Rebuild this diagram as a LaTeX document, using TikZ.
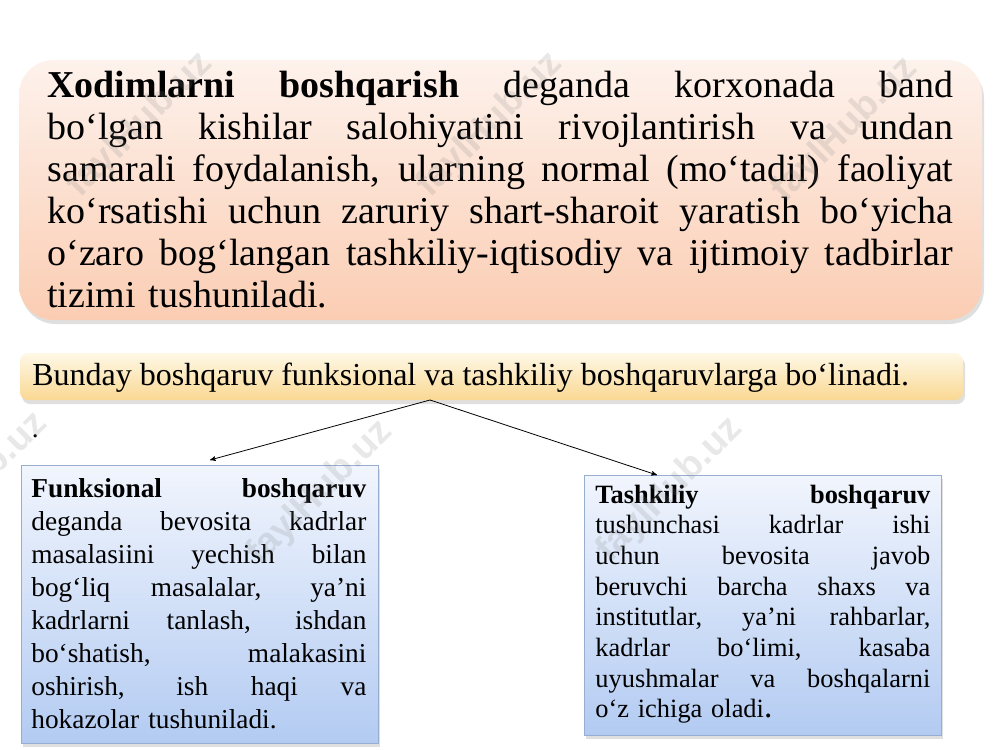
\documentclass[tikz,border=0pt]{standalone}
\usepackage{fontspec}
\setmainfont{Liberation Serif}
\newfontfamily\wmfont{Liberation Sans}
\usetikzlibrary{arrows,shadows}

\definecolor{peachtop}{HTML}{FDF2EC}
\definecolor{peachbot}{HTML}{FBCDB3}
\definecolor{sandtop}{HTML}{FEF8E6}
\definecolor{sandbot}{HTML}{FAD893}
\definecolor{skytop}{HTML}{F1F5FD}
\definecolor{skybot}{HTML}{B3CBF2}
\definecolor{skyline}{HTML}{98AECF}

\newcommand{\fullline}[1]{\hbox to \hsize{\spaceskip=0.25em plus 1fil\relax #1}}

\begin{document}
\begin{tikzpicture}[x=0.75pt, y=-0.75pt, >=stealth', semithick]
    \tikzstyle{panel}=[draw=none, inner sep=0pt,
                       drop shadow={shadow xshift=1.5pt, shadow yshift=-3pt, opacity=0.25}]
    \tikzstyle{bluebox}=[panel, draw=skyline, thin, top color=skytop, bottom color=skybot,
                         minimum width=267.75pt]
    \tikzstyle{textblock}=[anchor=base west, inner sep=0pt]
    \tikzstyle{wmtext}=[font=\wmfont\bfseries\fontsize{28pt}{30pt}\selectfont,
                        text=gray, opacity=0.18, rotate=45]

    \useasboundingbox (0,0) rectangle (1000,750);

    % boxes
    \node[panel, rounded corners=26pt, top color=peachtop, bottom color=peachbot,
          minimum width=722.25pt, minimum height=195pt] (defbox) at (500.5,190) {};
    \node[panel, rounded corners=6pt, top color=sandtop, bottom color=sandbot,
          minimum width=707.25pt, minimum height=35.25pt] (splitbar) at (491.5,376.5) {};
    \node[bluebox, minimum height=208.5pt] (func) at (199.5,604) {};
    \node[bluebox, minimum height=195pt]   (org)  at (762.5,605) {};

    % texts
    \node[textblock, text width=679.5pt,
          font=\fontsize{28.5pt}{31.5pt}\selectfont] (deftext) at (47,97) {%
        \fullline{\textbf{Xodimlarni} \textbf{boshqarish} deganda korxonada band}
        \fullline{bo‘lgan kishilar salohiyatini rivojlantirish va undan}
        \fullline{samarali foydalanish, ularning normal (mo‘tadil) faoliyat}
        \fullline{ko‘rsatishi uchun zaruriy shart-sharoit yaratish bo‘yicha}
        \fullline{o‘zaro bog‘langan tashkiliy-iqtisodiy va ijtimoiy tadbirlar}
        \hbox{tizimi tushuniladi.}};
    \node[textblock, font=\fontsize{24pt}{28pt}\selectfont] (splittext) at (32,385)
        {Bunday boshqaruv funksional va tashkiliy boshqaruvlarga bo‘linadi.};
    \node[textblock, font=\fontsize{20.5pt}{24pt}\selectfont] (dot) at (31.5,437) {.};
    \node[textblock, text width=251.25pt,
          font=\fontsize{20.5pt}{24.75pt}\selectfont] (functext) at (31,497) {%
        \fullline{\textbf{Funksional} \textbf{boshqaruv}}
        \fullline{deganda bevosita kadrlar}
        \fullline{masalasiini yechish bilan}
        \fullline{bog‘liq masalalar, ya’ni}
        \fullline{kadrlarni tanlash, ishdan}
        \fullline{bo‘shatish, malakasini}
        \fullline{oshirish, ish haqi va}
        \hbox{hokazolar tushuniladi.}};
    \node[textblock, text width=251.25pt,
          font=\fontsize{19.8pt}{23pt}\selectfont] (orgtext) at (595,503) {%
        \fullline{\textbf{Tashkiliy} \textbf{boshqaruv}}
        \fullline{tushunchasi kadrlar ishi}
        \fullline{uchun bevosita javob}
        \fullline{beruvchi barcha shaxs va}
        \fullline{institutlar, ya’ni rahbarlar,}
        \fullline{kadrlar bo‘limi, kasaba}
        \fullline{uyushmalar va boshqalarni}
        \hbox{o‘z ichiga oladi{\fontsize{25pt}{23pt}\selectfont.}}};

    % connectors
    \coordinate (fork)  at (430,400);
    \coordinate (funcin) at (210,460);
    \coordinate (orgin)  at (657,475);
    \draw[->] (fork) -- (funcin);
    \draw[->] (fork) -- (orgin);

    % watermark
    \foreach \wx/\wy [count=\wi] in {140/125, 490/125, 845/130, -25/485, 320/493, 670/490}
        \node[wmtext] (wm\wi) at (\wx,\wy) {faylHub.uz};
\end{tikzpicture}
\end{document}
